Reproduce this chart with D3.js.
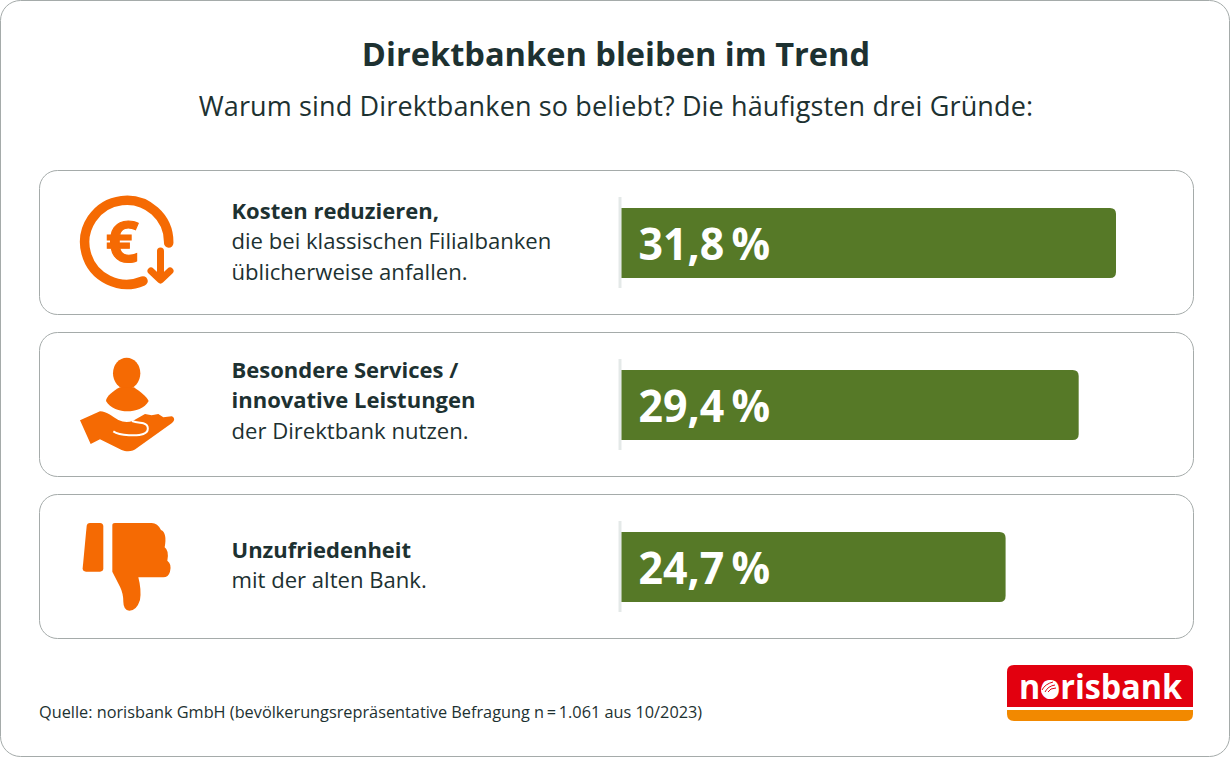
<!DOCTYPE html>
<html><head><meta charset="utf-8">
<script src="https://cdn.jsdelivr.net/npm/d3@7"></script>
<style>html,body{margin:0;padding:0;background:#fff}svg{display:block}text{font-family:"Open Sans","Noto Sans",sans-serif;fill:#1d3131}</style>
</head><body><div id="c"></div>
<script>
const title="Direktbanken bleiben im Trend";
const subtitle="Warum sind Direktbanken so beliebt? Die häufigsten drei Gründe:";
const categories=["Kosten","Services","Unzufriedenheit"];
const values=[31.8,29.4,24.7];
const valueLabels=["31,8\u2009%","29,4\u2009%","24,7\u2009%"];
const boldLines=[["Kosten reduzieren,"],["Besondere Services /","innovative Leistungen"],["Unzufriedenheit"]];
const normalLines=[["die bei klassischen Filialbanken","üblicherweise anfallen."],["der Direktbank nutzen."],["mit der alten Bank."]];
const source="Quelle: norisbank GmbH (bevölkerungsrepräsentative Befragung n\u2009=\u20091.061 aus 10/2023)";
const W=1230,H=758,orange="#f56a03",green="#567927",stroke="#a5abaa";
const svg=d3.select("#c").append("svg").attr("width",W).attr("height",H);
svg.append("rect").attr("x",.5).attr("y",.5).attr("width",W-1).attr("height",H-2).attr("rx",20).attr("fill","#fff").attr("stroke",stroke);
svg.append("text").attr("x",616).attr("y",66).attr("text-anchor","middle").attr("font-size",32.6).attr("font-weight",700).text(title);
svg.append("text").attr("x",616).attr("y",116).attr("text-anchor","middle").attr("font-size",27).style("letter-spacing","0.14px").text(subtitle);

const x=d3.scaleLinear().domain([0,31.8]).range([621.5,1116]);
const rowY=d3.scaleBand().domain(categories).range([170,639]).paddingInner(0.105).paddingOuter(0);
const rows=svg.selectAll("g.row").data(categories).join("g").attr("class","row").attr("transform",d=>`translate(0,${Math.round(rowY(d))})`);
const rowH=145;
rows.append("rect").attr("x",39.5).attr("y",.5).attr("width",1154).attr("height",rowH-1).attr("rx",18).attr("fill","#fff").attr("stroke",stroke);
rows.append("line").attr("x1",620).attr("x2",620).attr("y1",27).attr("y2",118).attr("stroke","#e4e9e8").attr("stroke-width",3);
rows.append("path").attr("fill",green).attr("d",(d,i)=>{
  const x0=x(0),x1=x(values[i]),y0=38,y1=108,r=6;
  return `M${x0},${y0}H${x1-r}Q${x1},${y0} ${x1},${y0+r}V${y1-r}Q${x1},${y1} ${x1-r},${y1}H${x0}Z`;});
rows.append("text").attr("transform","translate(638.5,90) scale(0.975,1)").attr("font-size",44).attr("font-weight",700).style("fill","#fff").text((d,i)=>valueLabels[i]);
const firstLine=[49,46,64];
rows.each(function(d,i){
  const g=d3.select(this);
  const y0=firstLine[i];
  let k=0;
  boldLines[i].forEach(t=>{g.append("text").attr("x",231.5).attr("y",y0+30.4*k++).attr("font-size",22).attr("font-weight",700).text(t)});
  normalLines[i].forEach(t=>{g.append("text").attr("x",231.5).attr("y",y0+30.4*k++).attr("font-size",22.1).text(t)});
});
// icons
const ic=svg.append("g");
const e=ic.append("g");
e.append("path").attr("fill","none").attr("stroke",orange).attr("stroke-width",9.5).attr("stroke-linecap","round").attr("d","M168.7,243 A42,42 0 1 0 143,281");
e.append("path").attr("fill","none").attr("stroke",orange).attr("stroke-width",7).attr("stroke-linecap","round").attr("stroke-linejoin","round").attr("d","M160.5,251V279M151,271L160.5,280L170,271");
e.append("text").attr("x",122).attr("y",262).attr("text-anchor","middle").attr("font-size",58).attr("font-weight",700).attr("stroke",orange).attr("stroke-width",1.2).style("fill",orange).text("€");
const p=ic.append("g").attr("transform","translate(60,340) scale(0.3333)").attr("fill",orange);
p.append("ellipse").attr("cx",200).attr("cy",100).attr("rx",41).attr("ry",47);
p.append("path").attr("d","M180,142 C160,152 138,170 138,183 C150,205 180,214 202,214 C225,214 255,205 266,183 C260,170 240,155 222,142 Z");
p.append("path").attr("d","M60,241 L120,214 C140,214 160,232 175,240 C190,247 205,247 218,243 L255,222 L275,226 L295,222 L310,232 L335,229 C345,233 345,243 335,250 L230,325 C220,335 200,337 185,330 L120,298 L92,312 Z");
p.append("path").attr("fill","none").attr("stroke","#fff").attr("stroke-width",6).attr("d","M160,274 C180,288 235,288 250,282 C268,275 268,255 250,250 C240,248 228,247 216,243");
const t=ic.append("g").attr("transform","translate(60,340) scale(0.3333)").attr("fill",orange);
t.append("path").attr("d","M90,549 L120,549 Q130,549 130,560 L130,685 Q130,695 120,695 L78,695 Q68,695 68,685 L80,558 Q81,549 90,549 Z");
t.append("path").attr("d","M157,556 Q157,549 165,549 L275,549 Q293,549 303,570 Q322,578 314,622 Q328,632 322,662 Q336,672 330,695 Q325,712 310,712 L235,712 Q245,750 240,780 Q230,812 208,812 Q190,810 190,785 Q190,760 180,740 L157,695 Z");
// source
svg.append("text").attr("x",39).attr("y",718).attr("font-size",16.3).text(source);
// logo
const l=svg.append("g");
l.append("path").attr("fill","#e2000f").attr("d","M1007,707V672Q1007,665 1014,665H1186Q1193,665 1193,672V707Z");
l.append("path").attr("fill","#f28900").attr("d","M1007,710H1193V714Q1193,721 1186,721H1014Q1007,721 1007,714Z");
l.append("text").attr("x",1019).attr("y",699).attr("font-size",34).attr("font-weight",700).attr("textLength",163).attr("lengthAdjust","spacingAndGlyphs").style("fill","#fff").text("norisbank");
l.append("circle").attr("cx",1048).attr("cy",690).attr("r",7).attr("fill","#fff");
l.append("path").attr("fill","none").attr("stroke","#e2000f").attr("stroke-width",1).attr("d","M1042,690Q1045,684 1053,682M1045,692Q1048,686 1055,685M1048,692Q1050,688 1056,688");
</script></body></html>
